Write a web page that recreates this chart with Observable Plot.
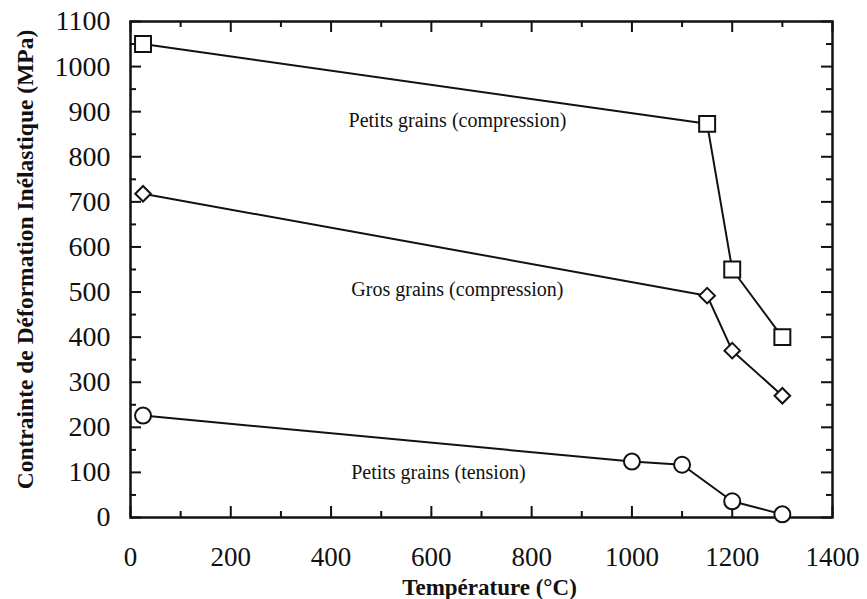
<!DOCTYPE html>
<html>
<head>
<meta charset="utf-8">
<script src="https://cdn.jsdelivr.net/npm/d3@7"></script>
<script src="https://cdn.jsdelivr.net/npm/@observablehq/plot@0.6"></script>
<style>
  html, body { margin: 0; padding: 0; background: #fff; }
  #chart { width: 867px; height: 599px; }
</style>
</head>
<body>
<div id="chart"></div>
<script>
// Series data (temperature °C, stress MPa)
const petitsCompT = [25, 1150, 1200, 1300];
const petitsCompS = [1050, 873, 550, 400];
const grosCompT = [25, 1150, 1200, 1300];
const grosCompS = [718, 492, 370, 270];
const petitsTensT = [25, 1000, 1100, 1200, 1300];
const petitsTensS = [226, 124, 117, 36, 7];

// Annotation labels
const labelNames = ["Petits grains (compression)", "Gros grains (compression)", "Petits grains (tension)"];
const labelX = [652, 652, 614];
const labelY = [880, 505, 100];

// Ticks
const xTicks = [0, 200, 400, 600, 800, 1000, 1200, 1400];
const xMinor = [100, 300, 500, 700, 900, 1100, 1300];
const yTicks = [0, 100, 200, 300, 400, 500, 600, 700, 800, 900, 1000, 1100];
const yMinor = [50, 150, 250, 350, 450, 550, 650, 750, 850, 950, 1050];

const xTitle = "Température (°C)";
const yTitle = "Contrainte de Déformation Inélastique (MPa)";

const toRows = (T, S) => T.map((t, i) => ({t, s: S[i]}));
const sPC = toRows(petitsCompT, petitsCompS);
const sGC = toRows(grosCompT, grosCompS);
const sPT = toRows(petitsTensT, petitsTensS);
const labels = labelNames.map((n, i) => ({n, t: labelX[i], s: labelY[i]}));

const W = 867, H = 599;
const mL = 130, mR = 35, mT = 21, mB = 82;
const innerW = W - mL - mR, innerH = H - mT - mB;
const major = 11, minor = 6;

const chart = Plot.plot({
  width: W,
  height: H,
  marginLeft: mL,
  marginRight: mR,
  marginTop: mT,
  marginBottom: mB,
  style: {fontFamily: "'Liberation Serif', 'Times New Roman', serif", background: "#fff", color: "#111"},
  x: {domain: [0, 1400]},
  y: {domain: [0, 1100]},
  marks: [
    // inward ticks: bottom & top
    Plot.ruleX(xTicks, {x: d => d, insetTop: innerH - major, stroke: "#111", strokeWidth: 2}),
    Plot.ruleX(xTicks, {x: d => d, insetBottom: innerH - major, stroke: "#111", strokeWidth: 2}),
    Plot.ruleX(xMinor, {x: d => d, insetTop: innerH - minor, stroke: "#111", strokeWidth: 2}),
    Plot.ruleX(xMinor, {x: d => d, insetBottom: innerH - minor, stroke: "#111", strokeWidth: 2}),
    // inward ticks: left & right
    Plot.ruleY(yTicks, {y: d => d, insetRight: innerW - major, stroke: "#111", strokeWidth: 2}),
    Plot.ruleY(yTicks, {y: d => d, insetLeft: innerW - major, stroke: "#111", strokeWidth: 2}),
    Plot.ruleY(yMinor, {y: d => d, insetRight: innerW - minor, stroke: "#111", strokeWidth: 2}),
    Plot.ruleY(yMinor, {y: d => d, insetLeft: innerW - minor, stroke: "#111", strokeWidth: 2}),
    Plot.frame({stroke: "#111", strokeWidth: 2.5}),
    Plot.axisX(xTicks, {tickSize: 0, tickPadding: 29, fontSize: 27, label: null, tickFormat: d => String(d)}),
    Plot.axisY(yTicks, {tickSize: 0, tickPadding: 20, fontSize: 28, label: null, tickFormat: d => String(d)}),
    // lines
    Plot.line(sPC, {x: "t", y: "s", stroke: "#111", strokeWidth: 2}),
    Plot.line(sGC, {x: "t", y: "s", stroke: "#111", strokeWidth: 2}),
    Plot.line(sPT, {x: "t", y: "s", stroke: "#111", strokeWidth: 2}),
    // markers
    Plot.dot(sPC, {x: "t", y: "s", symbol: "square", r: 9, fill: "#fff", stroke: "#111", strokeWidth: 2}),
    Plot.dot(sGC, {x: "t", y: "s", symbol: "diamond2", r: 7, fill: "#fff", stroke: "#111", strokeWidth: 2}),
    Plot.dot(sPT, {x: "t", y: "s", symbol: "circle", r: 8, fill: "#fff", stroke: "#111", strokeWidth: 2}),
    // annotations
    Plot.text(labels, {x: "t", y: "s", text: "n", fontSize: 20, fill: "#111"}),
    // axis titles
    Plot.text([xTitle], {frameAnchor: "bottom", lineAnchor: "middle", dx: 8, dy: 70, fontSize: 23, fontWeight: "bold", fill: "#111"}),
    Plot.text([yTitle], {frameAnchor: "left", textAnchor: "middle", lineAnchor: "middle", rotate: -90, dx: -105, dy: -10, fontSize: 23.5, fontWeight: "bold", fill: "#111"})
  ]
});
document.getElementById("chart").appendChild(chart);
</script>
</body>
</html>
